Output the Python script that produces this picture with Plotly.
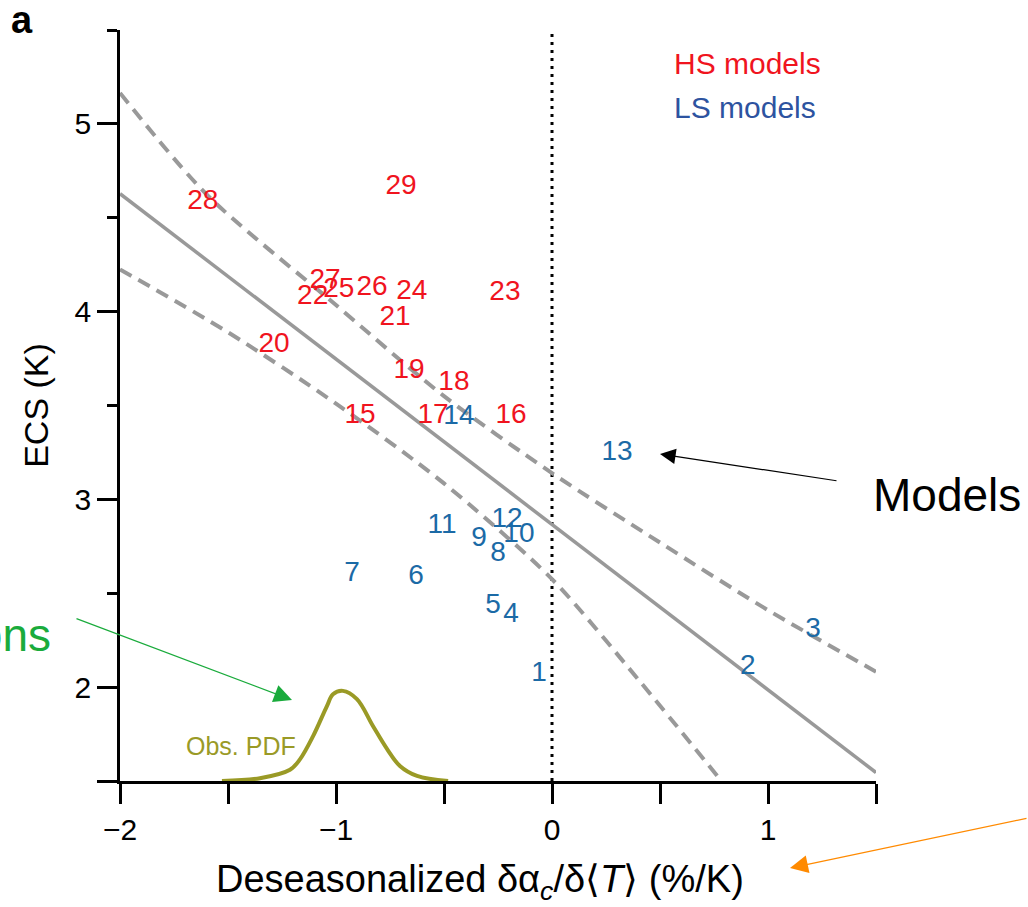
import plotly.graph_objects as go

# High-sensitivity (HS) models: id, albedo-feedback slope (%/K), ECS (K)
hs_ids = ["15", "16", "17", "18", "19", "20", "21", "22", "23", "24", "25", "26", "27", "28", "29"]
hs_x = [-0.889, -0.190, -0.551, -0.454, -0.662, -1.287, -0.727, -1.108, -0.218, -0.649, -0.987, -0.833, -1.051, -1.617, -0.699]
hs_y = [3.444, 3.444, 3.444, 3.619, 3.683, 3.821, 3.964, 4.076, 4.097, 4.103, 4.113, 4.124, 4.161, 4.586, 4.662]

# Low-sensitivity (LS) models
ls_ids = ["1", "2", "3", "4", "5", "6", "7", "8", "9", "10", "11", "12", "13", "14"]
ls_x = [-0.060, 0.907, 1.208, -0.190, -0.273, -0.630, -0.926, -0.250, -0.338, -0.153, -0.509, -0.208, 0.301, -0.431]
ls_y = [2.069, 2.106, 2.302, 2.382, 2.430, 2.589, 2.605, 2.711, 2.791, 2.812, 2.860, 2.892, 3.247, 3.439]

# Regression line and its uncertainty envelope
fit_x = [-2.0, 1.5]
fit_y = [4.628, 1.545]
upper_x = [-2.0, -1.6, -1.0, -0.5, 0.0, 0.5, 1.0, 1.5]
upper_y = [5.165, 4.625, 4.035, 3.550, 3.140, 2.770, 2.410, 2.082]
lower_x = [-2.0, -1.5, -1.0, -0.5, 0.0, 0.4, 0.77]
lower_y = [4.225, 3.890, 3.510, 3.085, 2.575, 2.040, 1.520]

# Observational PDF (drawn on the ECS axis, baseline at 1.5)
pdf_x = [-1.528, -1.352, -1.213, -1.167, -1.106, -1.042, -1.014, -0.968, -0.903, -0.829, -0.764, -0.704, -0.625, -0.481]
pdf_y = [1.500, 1.515, 1.560, 1.615, 1.739, 1.899, 1.962, 1.980, 1.936, 1.793, 1.671, 1.580, 1.527, 1.500]

x_ticks = [-2, -1, 0, 1]
x_ticktext = ["\u22122", "\u22121", "0", "1"]
y_ticks = [1.5, 2, 3, 4, 5]
y_ticktext = ["", "2", "3", "4", "5"]

FONT = "Liberation Sans, Arial, Helvetica, sans-serif"
RED = "#f0141e"
BLUE = "#1b6aa6"
GRAY = "#999999"
OLIVE = "#9a9a26"

fig = go.Figure()

# zero line
fig.add_trace(go.Scatter(x=[0, 0], y=[1.5, 5.5], mode="lines",
                         line=dict(color="black", width=3, dash="3px,5px"),
                         hoverinfo="skip", showlegend=False))

# regression envelope and fit
for bx, by in ((upper_x, upper_y), (lower_x, lower_y)):
    fig.add_trace(go.Scatter(x=bx, y=by, mode="lines",
                             line=dict(color=GRAY, width=4, dash="13px,8px", shape="spline", smoothing=0.8),
                             hoverinfo="skip", showlegend=False))
fig.add_trace(go.Scatter(x=fit_x, y=fit_y, mode="lines",
                         line=dict(color=GRAY, width=3.5),
                         hoverinfo="skip", showlegend=False))

# observational PDF
fig.add_trace(go.Scatter(x=pdf_x, y=pdf_y, mode="lines",
                         line=dict(color=OLIVE, width=4, shape="spline", smoothing=1),
                         hoverinfo="skip", showlegend=False))

# model labels
fig.add_trace(go.Scatter(x=hs_x, y=hs_y, text=hs_ids, mode="text",
                         textposition="middle center",
                         textfont=dict(family=FONT, size=28, color=RED),
                         showlegend=False))
fig.add_trace(go.Scatter(x=ls_x, y=ls_y, text=ls_ids, mode="text",
                         textposition="middle center",
                         textfont=dict(family=FONT, size=28, color=BLUE),
                         showlegend=False))

axis_common = dict(showgrid=False, zeroline=False, showline=True, linecolor="black",
                   linewidth=2.5, ticks="outside", tickcolor="black", tickwidth=2.5,
                   tickfont=dict(family=FONT, size=30, color="black"))

fig.update_xaxes(range=[-2, 1.5], tickmode="array", tickvals=x_ticks, ticktext=x_ticktext,
                 ticklen=20,
                 minor=dict(tickmode="array", tickvals=[-1.5, -0.5, 0.5, 1.5], ticks="outside",
                            ticklen=20, tickwidth=2.5, tickcolor="black"),
                 **axis_common)
fig.update_yaxes(range=[1.5, 5.5], tickmode="array", tickvals=y_ticks, ticktext=y_ticktext,
                 ticklen=20,
                 minor=dict(tickmode="array", tickvals=[2.5, 3.5, 4.5, 5.5], ticks="outside",
                            ticklen=10, tickwidth=2.5, tickcolor="black"),
                 title=dict(text="ECS (K)", font=dict(family=FONT, size=34, color="black"), standoff=16),
                 **axis_common)

L, R, T, B = 120, 152, 30, 126
W, H = 1028, 907
pw, ph = W - L - R, H - T - B


def px(xp):
    return (xp - L) / pw


def py(yp):
    return (H - B - yp) / ph


annotations = [
    dict(text="<b>a</b>", x=px(22), y=py(-3), xanchor="center", yanchor="top",
         font=dict(family=FONT, size=38, color="black")),
    dict(text="Deseasonalized \u03b4\u03b1<sub><i>c</i></sub>/\u03b4\u27e8<i>T</i>\u27e9 (%/K)",
         x=px(480), y=py(882), xanchor="center", yanchor="middle",
         font=dict(family=FONT, size=38, color="black")),
    dict(text="HS models", x=px(672), y=py(63), xanchor="left", yanchor="middle",
         font=dict(family=FONT, size=30, color=RED)),
    dict(text="LS models", x=px(672), y=py(107), xanchor="left", yanchor="middle",
         font=dict(family=FONT, size=30, color="#2d53a0")),
    dict(text="Obs. PDF", x=px(298), y=py(746), xanchor="right", yanchor="middle",
         font=dict(family=FONT, size=25, color=OLIVE)),
    dict(text="Models", x=px(871), y=py(495), xanchor="left", yanchor="middle",
         font=dict(family=FONT, size=46, color="black")),
    dict(text="Observations", x=px(53), y=py(635), xanchor="right", yanchor="middle",
         font=dict(family=FONT, size=46, color="#1aab3c")),
    # arrows
    dict(text="", x=px(660), y=py(454), ax=838 - 660, ay=481 - 454, showarrow=True,
         arrowhead=2, arrowsize=2.6, arrowwidth=1.2, arrowcolor="black", standoff=0),
    dict(text="", x=px(292), y=py(700), ax=75 - 292, ay=618 - 700, showarrow=True,
         arrowhead=2, arrowsize=3.0, arrowwidth=1.2, arrowcolor="#1aab3c", standoff=0),
    dict(text="", x=px(790), y=py(868), ax=1028 - 790, ay=818 - 868, showarrow=True,
         arrowhead=2, arrowsize=3.0, arrowwidth=1.2, arrowcolor="#ff8a00", standoff=0),
]
for a in annotations:
    a.setdefault("showarrow", False)
    a["xref"] = "paper"
    a["yref"] = "paper"

fig.update_layout(width=W, height=H, margin=dict(l=L, r=R, t=T, b=B),
                  paper_bgcolor="white", plot_bgcolor="white",
                  annotations=annotations, showlegend=False,
                  font=dict(family=FONT))

fig.write_html("out.html")
